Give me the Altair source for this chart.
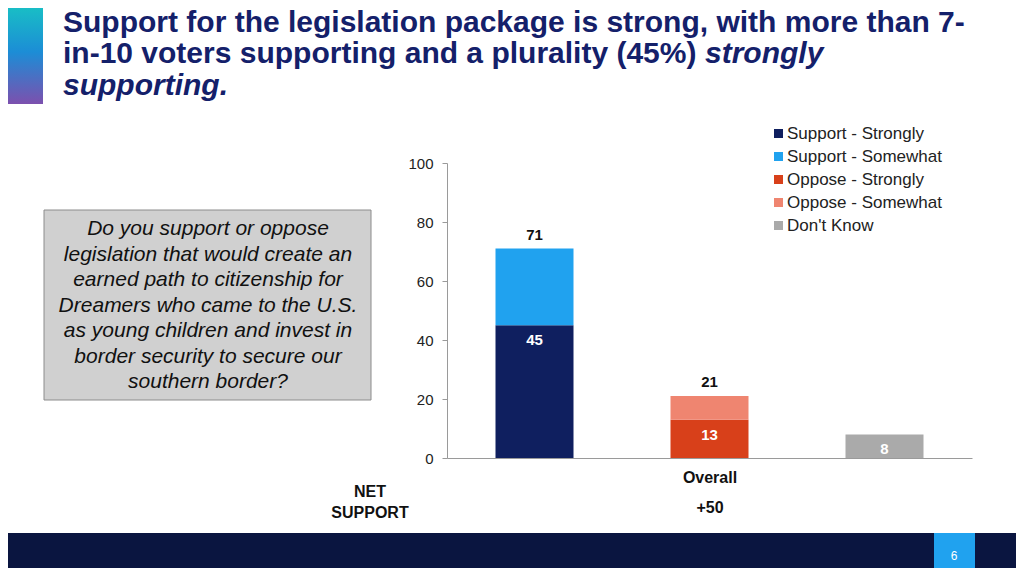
import altair as alt
import pandas as pd

FONT = "Liberation Sans"

# ---- data ----
groups = ["Support", "Oppose", "Don't Know"]
series = ["Support - Strongly", "Support - Somewhat", "Oppose - Strongly",
          "Oppose - Somewhat", "Don't Know"]
series_group = ["Support", "Support", "Oppose", "Oppose", "Don't Know"]
series_values = [45, 26, 13, 8, 8]
series_rank = [0, 1, 0, 1, 0]
colors = ["#0F1F5F", "#20A2EF", "#D8401A", "#EF8570", "#AAAAAA"]

inner_groups = ["Support", "Oppose", "Don't Know"]
inner_values = [45, 13, 8]
total_groups = ["Support", "Oppose"]
total_values = [71, 21]

y_ticks = [0, 20, 40, 60, 80, 100]

title_line1 = "Support for the legislation package is strong, with more than 7-"
title_line2a = "in-10 voters supporting and a plurality (45%) "
title_line2b = "strongly"
title_line3 = "supporting."
question = ["Do you support or oppose", "legislation that would create an",
            "earned path to citizenship for", "Dreamers who came to the U.S.",
            "as young children and invest in", "border security to secure our",
            "southern border?"]
net_label = ["NET", "SUPPORT"]
net_value = "+50"
category_label = "Overall"
page_number = "6"

# ---- layout (page coords -> plot-area coords) ----
PX0, PY0 = 447, 163          # plot area origin on page
W, H = 525, 295
CW, CH = 1008, 560
pad_left, pad_top = PX0 - 8, PY0 - 8
pad_right = CW - pad_left - W
pad_bottom = CH - pad_top - H


def X(px):
    return px - PX0


def Y(py):
    return py - PY0


one = pd.DataFrame({"k": [0]})

bars_df = pd.DataFrame({"group": series_group, "series": series,
                        "value": series_values, "rank": series_rank})
inner_df = pd.DataFrame({"group": inner_groups, "value": inner_values})
total_df = pd.DataFrame({"group": total_groups, "value": total_values})

xscale = alt.Scale(domain=groups, paddingInner=0.554, paddingOuter=0.277)
yscale = alt.Scale(domain=[0, 100])

bars = alt.Chart(bars_df).mark_bar(size=78).encode(
    x=alt.X("group:N", scale=xscale, sort=groups,
            axis=alt.Axis(labels=False, ticks=False, title=None,
                          domainColor="#9A9A9A", domainWidth=1)),
    y=alt.Y("value:Q", scale=yscale, stack="zero",
            axis=alt.Axis(values=y_ticks, title=None, grid=False,
                          domainColor="#9A9A9A", tickColor="#9A9A9A",
                          tickSize=5, labelPadding=9, labelFontSize=15,
                          labelFont=FONT, labelColor="#222222")),
    color=alt.Color("series:N",
                    scale=alt.Scale(domain=series, range=colors),
                    legend=alt.Legend(orient="none", legendX=X(770),
                                      legendY=Y(125), title=None,
                                      symbolType="square", symbolSize=81,
                                      symbolStrokeWidth=0, labelFontSize=17,
                                      labelFont=FONT, labelColor="#222222",
                                      labelOffset=0, rowPadding=5)),
    order=alt.Order("rank:Q", sort="ascending"),
)

inner = alt.Chart(inner_df).mark_text(
    font=FONT, fontSize=15, fontWeight="bold", color="white",
    baseline="middle", dy=15).encode(
    x=alt.X("group:N", scale=xscale, sort=groups),
    y=alt.Y("value:Q", scale=yscale),
    text="value:Q")

totals = alt.Chart(total_df).mark_text(
    font=FONT, fontSize=15, fontWeight="bold", color="#111111",
    baseline="middle", dy=-14).encode(
    x=alt.X("group:N", scale=xscale, sort=groups),
    y=alt.Y("value:Q", scale=yscale),
    text="value:Q")


def label(text, px, py, size, weight="normal", style="normal",
          color="#111111", align="left", baseline="alphabetic", lh=None):
    kw = dict(text=text, font=FONT, fontSize=size, fontWeight=weight,
              fontStyle=style, color=color, align=align, baseline=baseline)
    if lh is not None:
        kw["lineHeight"] = lh
    return alt.Chart(one).mark_text(**kw).encode(
        x=alt.value(X(px)), y=alt.value(Y(py)))


def box(px1, py1, px2, py2, fill, stroke=None):
    kw = dict(fill=fill)
    if stroke is not None:
        kw.update(stroke=stroke, strokeWidth=1)
    return alt.Chart(one).mark_rect(**kw).encode(
        x=alt.value(X(px1)), x2=alt.value(X(px2)),
        y=alt.value(Y(py1)), y2=alt.value(Y(py2)))


TITLE_C = "#14206A"
grad = alt.Chart(one).mark_rect(
    fill=alt.Gradient(gradient="linear", x1=0, x2=0, y1=0, y2=1,
                      stops=[alt.GradientStop(offset=0, color="#18C6C3"),
                             alt.GradientStop(offset=0.5, color="#1C8DD6"),
                             alt.GradientStop(offset=1, color="#7C50AE")])
).encode(x=alt.value(X(0)), x2=alt.value(X(43)),
         y=alt.value(Y(0)), y2=alt.value(Y(104)))

layers = [
    grad,
    label(title_line1, 63, 32, 30, "bold", color=TITLE_C),
    label(title_line2a, 63, 63, 30, "bold", color=TITLE_C),
    label(title_line2b, 705, 63, 30, "bold", "italic", color=TITLE_C),
    label(title_line3, 63, 95, 30, "bold", "italic", color=TITLE_C),
    box(44, 210, 371, 400, "#D0D0D0", "#8C8C8C"),
    label(question, 208, 229, 21, style="italic", align="center",
          baseline="middle", lh=25.5, color="#111111"),
    label(net_label, 370, 492, 16, "bold", align="center",
          baseline="middle", lh=21),
    label(category_label, 710, 478, 16, "bold", align="center",
          baseline="middle"),
    label(net_value, 710, 508, 16, "bold", align="center",
          baseline="middle"),
    box(0, 533, 1030, 600, "#0A1540"),
    box(934, 533, 975, 600, "#20A2EF"),
    label(page_number, 954, 556, 12, color="white", align="center",
          baseline="middle"),
    bars, inner, totals,
]

chart = alt.layer(*layers).properties(
    width=W, height=H,
    autosize=alt.AutoSizeParams(type="none"),
    padding={"left": pad_left, "top": pad_top, "right": pad_right,
             "bottom": pad_bottom},
    background="white",
).configure_view(stroke=None)

chart.save("out.html", embed_options={"renderer": "svg", "actions": False})
